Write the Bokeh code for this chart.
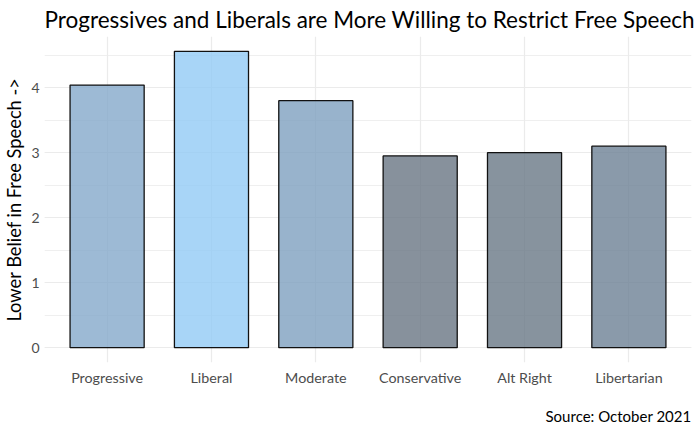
from bokeh.plotting import figure
from bokeh.models import FactorRange, Range1d, SingleIntervalTicker, Title, ColumnDataSource
from bokeh.embed import file_html
from bokeh.resources import INLINE

categories = ["Progressive", "Liberal", "Moderate", "Conservative", "Alt Right", "Libertarian"]
values = [4.04, 4.56, 3.80, 2.95, 3.00, 3.10]
colors = ["#84a9cb", "#92caf5", "#7ea0bf", "#697583", "#697886", "#6d8195"]

FONT = "Lato"

src = ColumnDataSource(dict(cat=categories, val=values, col=colors))

p = figure(
    x_range=FactorRange(factors=categories, range_padding=0.2 / 6, range_padding_units="percent"),
    y_range=Range1d(-0.228, 4.788),
    frame_width=647, frame_height=326,
    output_backend="svg", toolbar_location=None,
    min_border_left=0, min_border_right=4, min_border_top=0, min_border_bottom=0,
)
p.title.text = "Progressives and Liberals are More Willing to Restrict Free Speech"
p.title.text_font = FONT
p.title.text_font_size = "22.5px"
p.title.text_font_style = "normal"
p.title.align = "left"
p.title.text_color = "black"
p.title.standoff = 7

p.add_layout(Title(text="Source: October 2021", align="right", text_font=FONT,
                   text_font_size="15px", text_font_style="normal", text_color="black",
                   standoff=33), "below")

p.vbar(x="cat", top="val", width=0.71, bottom=0, source=src,
       fill_color="col", fill_alpha=0.8, line_color="#111111", line_width=1.3)

p.outline_line_color = None
p.background_fill_color = "white"

p.yaxis.ticker = SingleIntervalTicker(interval=1, num_minor_ticks=2)
for ax in (p.xaxis, p.yaxis):
    ax.axis_line_color = None
    ax.major_tick_line_color = None
    ax.minor_tick_line_color = None
    ax.major_label_text_font = FONT
    ax.major_label_text_color = "#4d4d4d"
    ax.major_tick_out = 0
    ax.major_tick_in = 0
    ax.minor_tick_out = 0
    ax.minor_tick_in = 0
p.xaxis.major_label_text_font_size = "14.3px"
p.yaxis.major_label_text_font_size = "14px"
p.xaxis.major_label_standoff = 6
p.yaxis.major_label_standoff = 5

p.yaxis.axis_label = "Lower Belief in Free Speech ->"
p.yaxis.axis_label_text_font = FONT
p.yaxis.axis_label_text_font_size = "18.3px"
p.yaxis.axis_label_text_font_style = "normal"
p.yaxis.axis_label_text_color = "black"
p.yaxis.axis_label_standoff = 3

p.xgrid.grid_line_color = "#ebebeb"
p.xgrid.grid_line_width = 1.2
p.ygrid.grid_line_color = "#ebebeb"
p.ygrid.grid_line_width = 1.2
p.ygrid.minor_grid_line_color = "#ebebeb"
p.ygrid.minor_grid_line_width = 0.8

open("out.html", "w").write(file_html(p, INLINE))
